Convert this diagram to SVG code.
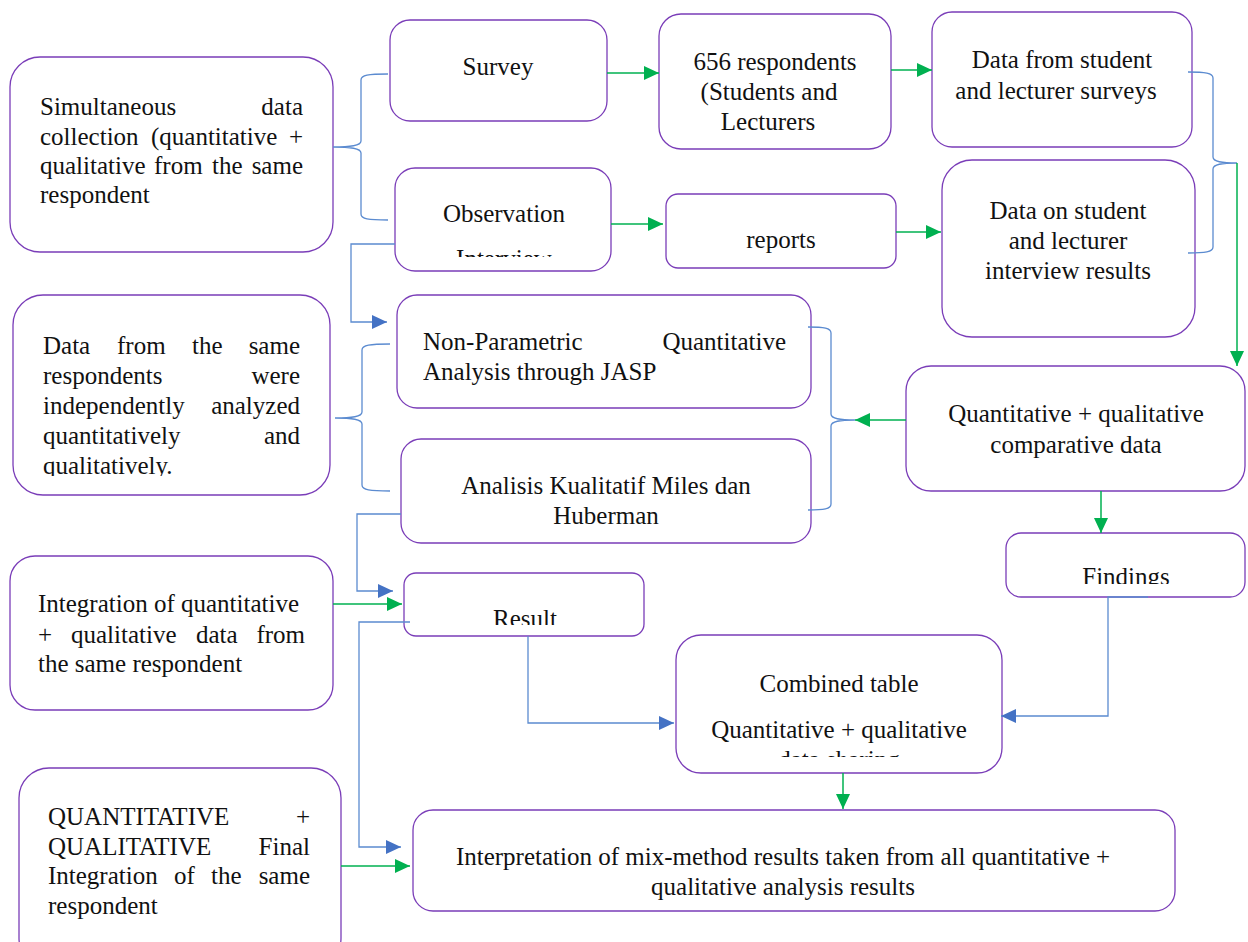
<svg xmlns="http://www.w3.org/2000/svg" width="1248" height="942" viewBox="0 0 1248 942">
<style>
.box{fill:#fff;stroke:#7A3DB8;stroke-width:1.3}
text{font-family:"Liberation Serif","Times New Roman",serif;font-size:25px;fill:#111}
.c{text-anchor:middle}
.e{text-anchor:end}
.g{fill:none;stroke:#00B050;stroke-width:1.5}
.b{fill:none;stroke:#5B8BD0;stroke-width:1.3}
</style>
<defs>
<marker id="ag" markerUnits="userSpaceOnUse" markerWidth="16" markerHeight="14" refX="15" refY="7" orient="auto"><path d="M0,0 L15,7 L0,14 Z" fill="#00B050"/></marker>
<marker id="ab" markerUnits="userSpaceOnUse" markerWidth="16" markerHeight="14" refX="15" refY="7" orient="auto"><path d="M0,0 L15,7 L0,14 Z" fill="#4472C4"/></marker>
<clipPath id="cpObs"><rect x="395" y="168" width="217" height="89"/></clipPath>
<clipPath id="cpFind"><rect x="1006" y="533" width="240" height="51"/></clipPath>
<clipPath id="cpRes"><rect x="404" y="573" width="241" height="52"/></clipPath>
<clipPath id="cpComb"><rect x="676" y="635" width="327" height="122"/></clipPath>
<clipPath id="cpSame"><rect x="13" y="295" width="318" height="181"/></clipPath>
</defs>

<g id="n-simultaneous">
<rect class="box" x="10" y="57" width="323" height="195" rx="30"/>
<text x="40" y="115">Simultaneous</text><text class="e" x="303" y="115">data</text>
<text x="40" y="145">collection</text><text x="151" y="145">(quantitative</text><text class="e" x="303" y="145">+</text>
<text x="40" y="174">qualitative</text><text x="154" y="174">from</text><text x="212" y="174">the</text><text class="e" x="303" y="174">same</text>
<text x="40" y="203">respondent</text>
</g>

<g id="n-survey">
<rect class="box" x="390" y="20" width="217" height="101" rx="20"/>
<text class="c" x="498" y="75">Survey</text>
</g>

<g id="n-respondents">
<rect class="box" x="659" y="14" width="232" height="135" rx="22"/>
<text class="c" x="775" y="70">656 respondents</text>
<text class="c" x="769" y="100">(Students and</text>
<text class="c" x="768" y="130">Lecturers</text>
</g>

<g id="n-survey-data">
<rect class="box" x="932" y="12" width="260" height="135" rx="20"/>
<text class="c" x="1062" y="68">Data from student</text>
<text class="c" x="1056" y="99">and lecturer surveys</text>
</g>

<g id="n-observation">
<rect class="box" x="395" y="168" width="216" height="103" rx="20"/>
<g clip-path="url(#cpObs)">
<text class="c" x="504" y="222">Observation</text>
<text class="c" x="504" y="267">Interview</text>
</g>
</g>

<g id="n-reports">
<rect class="box" x="666" y="194" width="230" height="74" rx="12"/>
<text class="c" x="781" y="248">reports</text>
</g>

<g id="n-interview-data">
<rect class="box" x="942" y="160" width="253" height="177" rx="30"/>
<text class="c" x="1068" y="219">Data on student</text>
<text class="c" x="1068" y="249">and lecturer</text>
<text class="c" x="1068" y="279">interview results</text>
</g>

<g id="n-same">
<rect class="box" x="13" y="295" width="317" height="200" rx="30"/>
<g clip-path="url(#cpSame)">
<text x="43" y="354">Data</text><text x="117" y="354">from</text><text x="192" y="354">the</text><text class="e" x="300" y="354">same</text>
<text x="43" y="384">respondents</text><text class="e" x="300" y="384">were</text>
<text x="43" y="414">independently</text><text class="e" x="300" y="414">analyzed</text>
<text x="43" y="444">quantitatively</text><text class="e" x="300" y="444">and</text>
<text x="43" y="474">qualitatively.</text>
</g>
</g>

<g id="n-nonparam">
<rect class="box" x="397" y="295" width="414" height="113" rx="20"/>
<text x="423" y="350">Non-Parametric</text><text class="e" x="786" y="350">Quantitative</text>
<text x="423" y="380">Analysis through JASP</text>
</g>

<g id="n-analisis">
<rect class="box" x="401" y="439" width="410" height="104" rx="20"/>
<text class="c" x="606" y="494">Analisis Kualitatif Miles dan</text>
<text class="c" x="606" y="524">Huberman</text>
</g>

<g id="n-comparative">
<rect class="box" x="906" y="366" width="339" height="125" rx="25"/>
<text class="c" x="1076" y="422">Quantitative + qualitative</text>
<text class="c" x="1076" y="453">comparative data</text>
</g>

<g id="n-findings">
<rect class="box" x="1006" y="533" width="239" height="64" rx="15"/>
<g clip-path="url(#cpFind)"><text class="c" x="1126" y="585">Findings</text></g>
</g>

<g id="n-integration">
<rect class="box" x="10" y="556" width="323" height="154" rx="25"/>
<text x="38" y="612">Integration of quantitative</text>
<text x="38" y="643">+</text><text x="71" y="643">qualitative</text><text x="196" y="643">data</text><text class="e" x="305" y="643">from</text>
<text x="38" y="672">the same respondent</text>
</g>

<g id="n-result">
<rect class="box" x="404" y="573" width="240" height="63" rx="12"/>
<g clip-path="url(#cpRes)"><text class="c" x="525" y="627">Result</text></g>
</g>

<g id="n-combined">
<rect class="box" x="676" y="635" width="326" height="138" rx="25"/>
<g clip-path="url(#cpComb)">
<text class="c" x="839" y="692">Combined table</text>
<text class="c" x="839" y="738">Quantitative + qualitative</text>
<text class="c" x="839" y="768">data sharing</text>
</g>
</g>

<g id="n-final">
<rect class="box" x="19" y="768" width="322" height="200" rx="30"/>
<text x="48" y="825">QUANTITATIVE</text><text class="e" x="310" y="825">+</text>
<text x="48" y="855">QUALITATIVE</text><text class="e" x="310" y="855">Final</text>
<text x="48" y="884">Integration</text><text x="174" y="884">of</text><text x="211" y="884">the</text><text class="e" x="310" y="884">same</text>
<text x="48" y="914">respondent</text>
</g>

<g id="n-interpretation">
<rect class="box" x="413" y="810" width="762" height="101" rx="20"/>
<text class="c" x="783" y="865">Interpretation of mix-method results taken from all quantitative +</text>
<text class="c" x="783" y="895">qualitative analysis results</text>
</g>

<g id="connectors">
<path class="b" d="M388,74 C368,74 361,75 361,80 L361,141 C361,146 350,147 333,147 C350,147 361,148 361,153 L361,214 C361,219 368,220 388,220"/>
<path class="b" d="M390,344 C370,344 362,345 362,350 L362,412 C362,417 352,418 335,418 C352,418 362,419 362,424 L362,485 C362,490 370,491 390,491"/>
<path class="b" d="M808,327 C824,327 831,328 831,333 L831,414 C831,419 840,420 855,420 C840,420 831,421 831,426 L831,504 C831,509 824,510 808,510"/>
<path class="b" d="M1188,72 C1205,72 1213,73 1213,78 L1213,157 C1213,162 1222,163 1237,163 C1222,163 1213,164 1213,169 L1213,247 C1213,252 1205,253 1188,253"/>
<line class="g" x1="1237" y1="163" x2="1237" y2="366" marker-end="url(#ag)"/>
<line class="g" x1="607" y1="73" x2="659" y2="73" marker-end="url(#ag)"/>
<line class="g" x1="891" y1="70" x2="932" y2="70" marker-end="url(#ag)"/>
<line class="g" x1="611" y1="224" x2="663" y2="224" marker-end="url(#ag)"/>
<line class="g" x1="896" y1="232" x2="941" y2="232" marker-end="url(#ag)"/>
<line class="g" x1="906" y1="420" x2="855" y2="420" marker-end="url(#ag)"/>
<line class="g" x1="1101" y1="491" x2="1101" y2="533" marker-end="url(#ag)"/>
<line class="g" x1="333" y1="604" x2="402" y2="604" marker-end="url(#ag)"/>
<line class="g" x1="843" y1="773" x2="843" y2="809" marker-end="url(#ag)"/>
<line class="g" x1="341" y1="866" x2="410" y2="866" marker-end="url(#ag)"/>
<path class="b" d="M395,244 H351 V322 H387" marker-end="url(#ab)"/>
<path class="b" d="M401,514 H357 V591 H393" marker-end="url(#ab)"/>
<path class="b" d="M410,622 H359 V847 H401" marker-end="url(#ab)"/>
<path class="b" d="M528,636 V723 H674" marker-end="url(#ab)"/>
<path class="b" d="M1148,597 H1108 V716 H1001" marker-end="url(#ab)"/>
</g>
</svg>
